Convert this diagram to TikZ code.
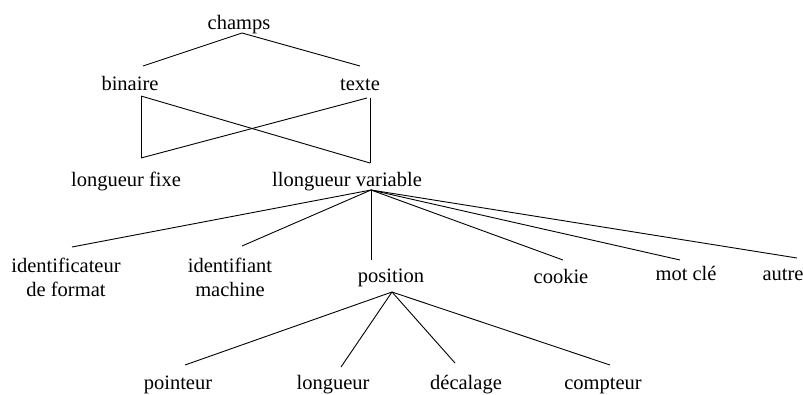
\documentclass[tikz,border=0pt]{standalone}
\usepackage{fontspec}
\setmainfont{Liberation Serif}
\newfontfamily\lblfont{Liberation Serif}
\begin{document}
\begin{tikzpicture}[x=1pt,y=-1pt,
  lbl/.style={inner sep=0pt,anchor=base,font=\lblfont\fontsize{20.5}{24}\selectfont,align=center},
  conn/.style={line width=0.9pt,black}]
\useasboundingbox (0,0) rectangle (803,394);
% labels
\node[lbl] (champs) at (239,29) {champs};
\node[lbl] (binaire) at (130,90) {binaire};
\node[lbl] (texte) at (360,90) {texte};
\node[lbl] (lfixe) at (126,186) {longueur fixe};
\node[lbl] (lvar) at (347,186) {llongueur variable};
\node[lbl] (idfmt) at (66,296) {identificateur\\de format};
\node[lbl] (idmach) at (230,296) {identifiant\\machine};
\node[lbl] (position) at (391,282) {position};
\node[lbl] (cookie) at (561,283) {cookie};
\node[lbl] (motcle) at (686,280) {mot clé};
\node[lbl] (autre) at (783,280) {autre};
\node[lbl] (pointeur) at (178,389) {pointeur};
\node[lbl] (longueur) at (333,389) {longueur};
\node[lbl] (decalage) at (466,389) {décalage};
\node[lbl] (compteur) at (603,389) {compteur};
% attachment points
\coordinate (champsB) at (242,33);
\coordinate (binT) at (143,66);
\coordinate (texT) at (360,66);
\coordinate (binB) at (141,96);
\coordinate (texB) at (367,98);
\coordinate (texBv) at (370,98);
\coordinate (lfT) at (141,158);
\coordinate (lvT) at (370,163);
\coordinate (lvB) at (371,190);
\coordinate (idfT) at (72,247);
\coordinate (idmT) at (242,246);
\coordinate (posT) at (371,260);
\coordinate (cooT) at (563,260);
\coordinate (motT) at (680,260);
\coordinate (autT) at (797,258);
\coordinate (posB) at (392,292);
\coordinate (poiT) at (185,365);
\coordinate (lonT) at (341,367);
\coordinate (decT) at (455,363);
\coordinate (comT) at (610,365);
% connectors
\draw[conn] (binT) -- (champsB) -- (texT);
\draw[conn] (binB) -- (lfT);
\draw[conn] (binB) -- (lvT);
\draw[conn] (texB) -- (lfT);
\draw[conn] (texBv) -- (lvT);
\foreach \t in {idfT,idmT,posT,cooT,motT,autT} \draw[conn] (lvB) -- (\t);
\foreach \t in {poiT,lonT,decT,comT} \draw[conn] (posB) -- (\t);
\end{tikzpicture}
\end{document}
